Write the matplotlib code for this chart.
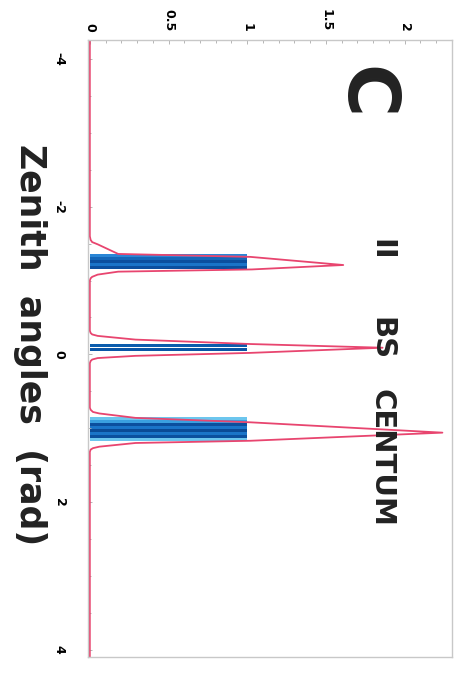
import matplotlib
matplotlib.use('Agg')
import matplotlib.pyplot as plt
from matplotlib.ticker import MultipleLocator

# pink simulated curve (angle in rad, value)
curve_angle = [-4.26, -1.60, -1.55, -1.52, -1.49, -1.36, -1.32, -1.21, -1.15, -1.12, -1.08, -1.05, -1.03, -1.00,
               -0.32, -0.29, -0.27, -0.25, -0.20, -0.14, -0.09, -0.02, 0.02, 0.05, 0.07, 0.09, 0.12,
               0.72, 0.75, 0.78, 0.80, 0.86, 0.92, 1.06, 1.17, 1.20, 1.25, 1.27, 1.29, 1.32, 4.10]
curve_value = [0.0, 0.0, 0.005, 0.015, 0.05, 0.18, 1.02, 1.61, 1.03, 0.18, 0.05, 0.015, 0.005, 0.0,
               0.0, 0.005, 0.015, 0.05, 0.29, 1.02, 1.86, 1.02, 0.29, 0.05, 0.015, 0.005, 0.0,
               0.0, 0.005, 0.02, 0.06, 0.29, 1.02, 2.24, 1.02, 0.29, 0.06, 0.02, 0.005, 0.0, 0.0]

# measured lines (blue stripes), all of height 1
bar_angle = [-1.335, -1.295, -1.255, -1.215, -1.175,
             -0.115, -0.065,
             0.87, 0.91, 0.95, 0.99, 1.03, 1.07, 1.11, 1.15]
bar_value = [1] * len(bar_angle)
bar_color = ['#2a86d6', '#1466b8', '#0b4f9e', '#1a74c8', '#0b4f9e',
             '#0b5cad', '#0a55a6',
             '#6cc6ee', '#3aa0e0', '#0b4f9e', '#1a74c8', '#0a4a96', '#1a74c8', '#0b4f9e', '#6cc6ee']

x_ticks = [0, 0.5, 1, 1.5, 2]
x_labels = ['0', '0.5', '1', '1.5', '2']
y_ticks = [-4, -2, 0, 2, 4]
y_labels = ['-4', '-2', '0', '2', '4']

fig = plt.figure(figsize=(4.62, 6.74), dpi=100)
ax = fig.add_axes([0.19, 0.025, 0.788, 0.916])

ax.barh(bar_angle, bar_value, height=0.042, color=bar_color, linewidth=0)
ax.plot(curve_value, curve_angle, color='#e8456f', lw=1.3)

ax.set_xlim(-0.013, 2.30)
ax.set_ylim(4.10, -4.26)

ax.xaxis.tick_top()
ax.set_xticks(x_ticks)
ax.set_xticklabels(x_labels, rotation=-90, fontsize=9, fontweight='bold')
ax.set_yticks(y_ticks)
ax.set_yticklabels(y_labels, rotation=-90, fontsize=9, fontweight='bold', va='center')
ax.xaxis.set_minor_locator(MultipleLocator(0.1))
ax.yaxis.set_minor_locator(MultipleLocator(0.5))
ax.tick_params(which='both', direction='in', color='#aaaaaa', width=0.6)
ax.tick_params(which='major', length=3)
ax.tick_params(which='minor', length=2)
ax.tick_params(axis='x', pad=6)
ax.tick_params(axis='y', pad=16)
for spine in ax.spines.values():
    spine.set_color('#c8c8c8')
    spine.set_linewidth(1.0)

ax.text(1.74, -3.55, 'C', rotation=-90, fontsize=52, fontweight='bold',
        ha='center', va='center', color='#222222')
ax.text(1.85, -1.42, 'II', rotation=-90, fontsize=21, fontweight='bold',
        ha='center', va='center', color='#222222')
ax.text(1.85, -0.22, 'BS', rotation=-90, fontsize=21, fontweight='bold',
        ha='center', va='center', color='#222222')
ax.text(1.85, 1.41, 'CENTUM', rotation=-90, fontsize=21, fontweight='bold',
        ha='center', va='center', color='#222222')

fig.text(0.065, 1 - 345 / 674, 'Zenith  angles  (rad)', rotation=-90, fontsize=25,
         fontweight='bold', ha='center', va='center', color='#222222')

fig.savefig('out.png', dpi=100)
